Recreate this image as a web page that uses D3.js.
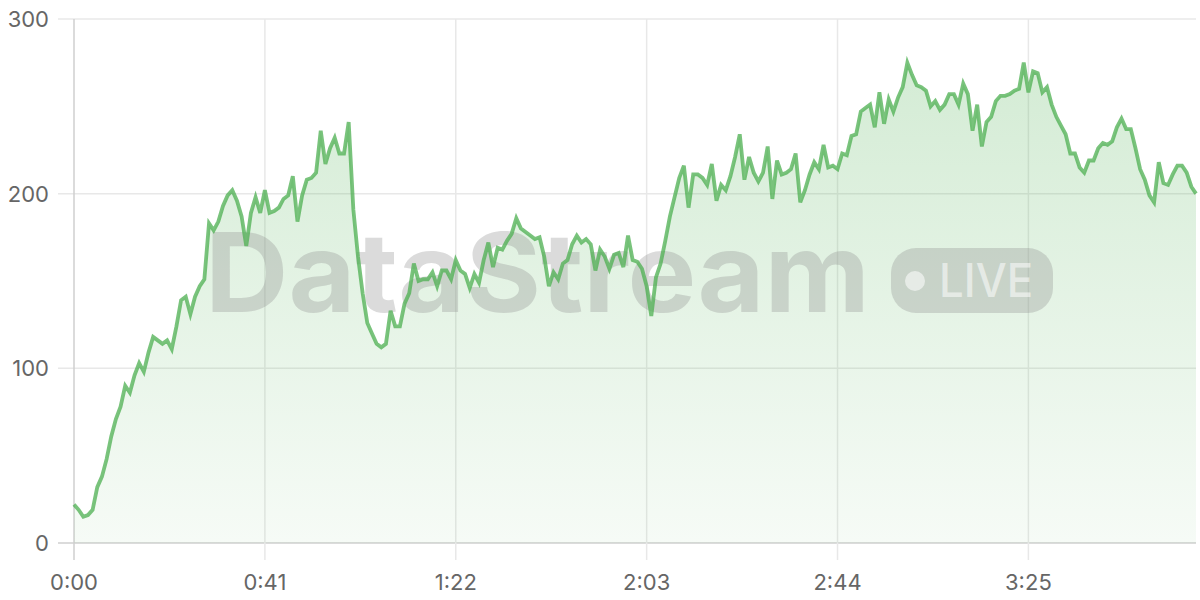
<!DOCTYPE html>
<html><head><meta charset="utf-8">
<script src="https://cdn.jsdelivr.net/npm/d3@7"></script>
<style>html,body{margin:0;padding:0;background:#fff;} svg{display:block;}</style>
</head><body><svg id="chart" width="1200" height="600"></svg>
<script>
// value per second, 0:00 .. 4:01
const values = [
22,19,15,16,19,32,38,48,61,71,78,90,86,96,103,98,109,118,116,114,
116,111,124,139,141,131,141,147,151,183,179,184,193,199,202,196,187,170,189,198,
189,202,189,190,192,197,199,210,184,199,208,209,212,236,217,226,232,223,223,241,
191,164,143,126,120,114,112,114,133,124,124,137,143,160,150,151,151,155,147,156,
156,151,162,156,154,146,154,149,162,172,158,169,168,173,177,186,180,178,176,174,
175,164,147,155,151,160,162,171,176,172,174,171,156,168,164,157,165,166,158,176,
162,161,157,147,130,152,160,173,187,198,209,216,192,211,211,209,205,217,196,205,
202,210,221,234,208,221,212,207,212,227,197,219,211,212,214,223,195,202,211,218,
214,228,215,216,214,223,222,233,234,247,249,251,238,258,240,254,247,255,261,275,
268,262,261,259,250,253,248,251,257,257,251,263,257,236,251,227,241,244,253,256,
256,257,259,260,275,258,270,269,258,261,251,244,239,234,223,223,215,212,219,219,
226,229,228,230,238,243,237,237,226,214,208,199,195,218,206,205,211,216,216,212,
204,200
];
const xTickValues = [0, 41, 82, 123, 164, 205];
const yTickValues = [0, 100, 200, 300];
const watermarkText = "DataStream";
const badgeText = "LIVE";

const svg = d3.select("#chart");
const W = 1200, H = 600;
const m = {left: 74, right: 4, top: 19, bottom: 57};
const x = d3.scaleLinear().domain([0, values.length - 1]).range([m.left, W - m.right]);
const y = d3.scaleLinear().domain([0, 300]).range([H - m.bottom, m.top]);
const fmt = s => Math.floor(s / 60) + ":" + String(s % 60).padStart(2, "0");
const FONT = "Inter, 'Noto Sans', 'DejaVu Sans', sans-serif";

const defs = svg.append("defs");
const grad = defs.append("linearGradient").attr("id", "fillGrad")
  .attr("gradientUnits", "userSpaceOnUse")
  .attr("x1", 0).attr("x2", 0).attr("y1", y(300)).attr("y2", y(0));
grad.append("stop").attr("offset", 0).attr("stop-color", "#4CAF50").attr("stop-opacity", 0.26);
grad.append("stop").attr("offset", 1).attr("stop-color", "#4CAF50").attr("stop-opacity", 0.05);

// grid
const grid = svg.append("g");
grid.selectAll("line.h").data(yTickValues).join("line")
  .attr("x1", m.left - 16).attr("x2", W - m.right)
  .attr("y1", d => y(d)).attr("y2", d => y(d))
  .attr("stroke", d => d === 0 ? "#cfcfcf" : "#e8e8e8").attr("stroke-width", 1.5);
grid.selectAll("line.v").data(xTickValues).join("line")
  .attr("y1", y(300)).attr("y2", y(0) + 17)
  .attr("x1", d => x(d)).attr("x2", d => x(d))
  .attr("stroke", d => d === 0 ? "#cfcfcf" : "#e8e8e8").attr("stroke-width", 1.5);

// area
const pts = values.map((v, i) => [i, v]);
svg.append("path").datum(pts)
  .attr("d", d3.area().x(d => x(d[0])).y0(y(0)).y1(d => y(d[1])))
  .attr("fill", "url(#fillGrad)");

// watermark
const wm = svg.append("g");
wm.append("text").attr("x", 205).attr("y", 312).text(watermarkText)
  .attr("font-family", FONT).attr("font-weight", 700)
  .attr("font-size", 110).attr("fill", "#909090").attr("fill-opacity", 0.32)
  .attr("textLength", 665).attr("lengthAdjust", "spacingAndGlyphs");
wm.append("rect").attr("x", 891).attr("y", 248).attr("width", 162).attr("height", 65).attr("rx", 25)
  .attr("fill", "#909090").attr("fill-opacity", 0.32);
wm.append("circle").attr("cx", 915).attr("cy", 281).attr("r", 10).attr("fill", "#fff").attr("fill-opacity", 0.55);
wm.append("text").attr("x", 939).attr("y", 297).text(badgeText)
  .attr("font-family", FONT).attr("font-weight", 500)
  .attr("font-size", 47).attr("fill", "#fff").attr("fill-opacity", 0.55)
  .attr("textLength", 94).attr("lengthAdjust", "spacingAndGlyphs");

// line
svg.append("path").datum(pts)
  .attr("d", d3.line().x(d => x(d[0])).y(d => y(d[1])))
  .attr("fill", "none").attr("stroke", "#4CAF50").attr("stroke-opacity", 0.75)
  .attr("stroke-width", 3.8).attr("stroke-linejoin", "miter");

// axis labels
svg.append("g").selectAll("text").data(yTickValues).join("text")
  .attr("x", 49).attr("y", d => y(d)).attr("dy", "0.36em")
  .attr("text-anchor", "end").text(d => d)
  .attr("font-family", FONT).attr("font-size", 22).attr("fill", "#666");
svg.append("g").selectAll("text").data(xTickValues).join("text")
  .attr("x", d => x(d)).attr("y", 590)
  .attr("text-anchor", "middle").text(d => fmt(d))
  .attr("font-family", FONT).attr("font-size", 22).attr("fill", "#666");
</script>
</body></html>
